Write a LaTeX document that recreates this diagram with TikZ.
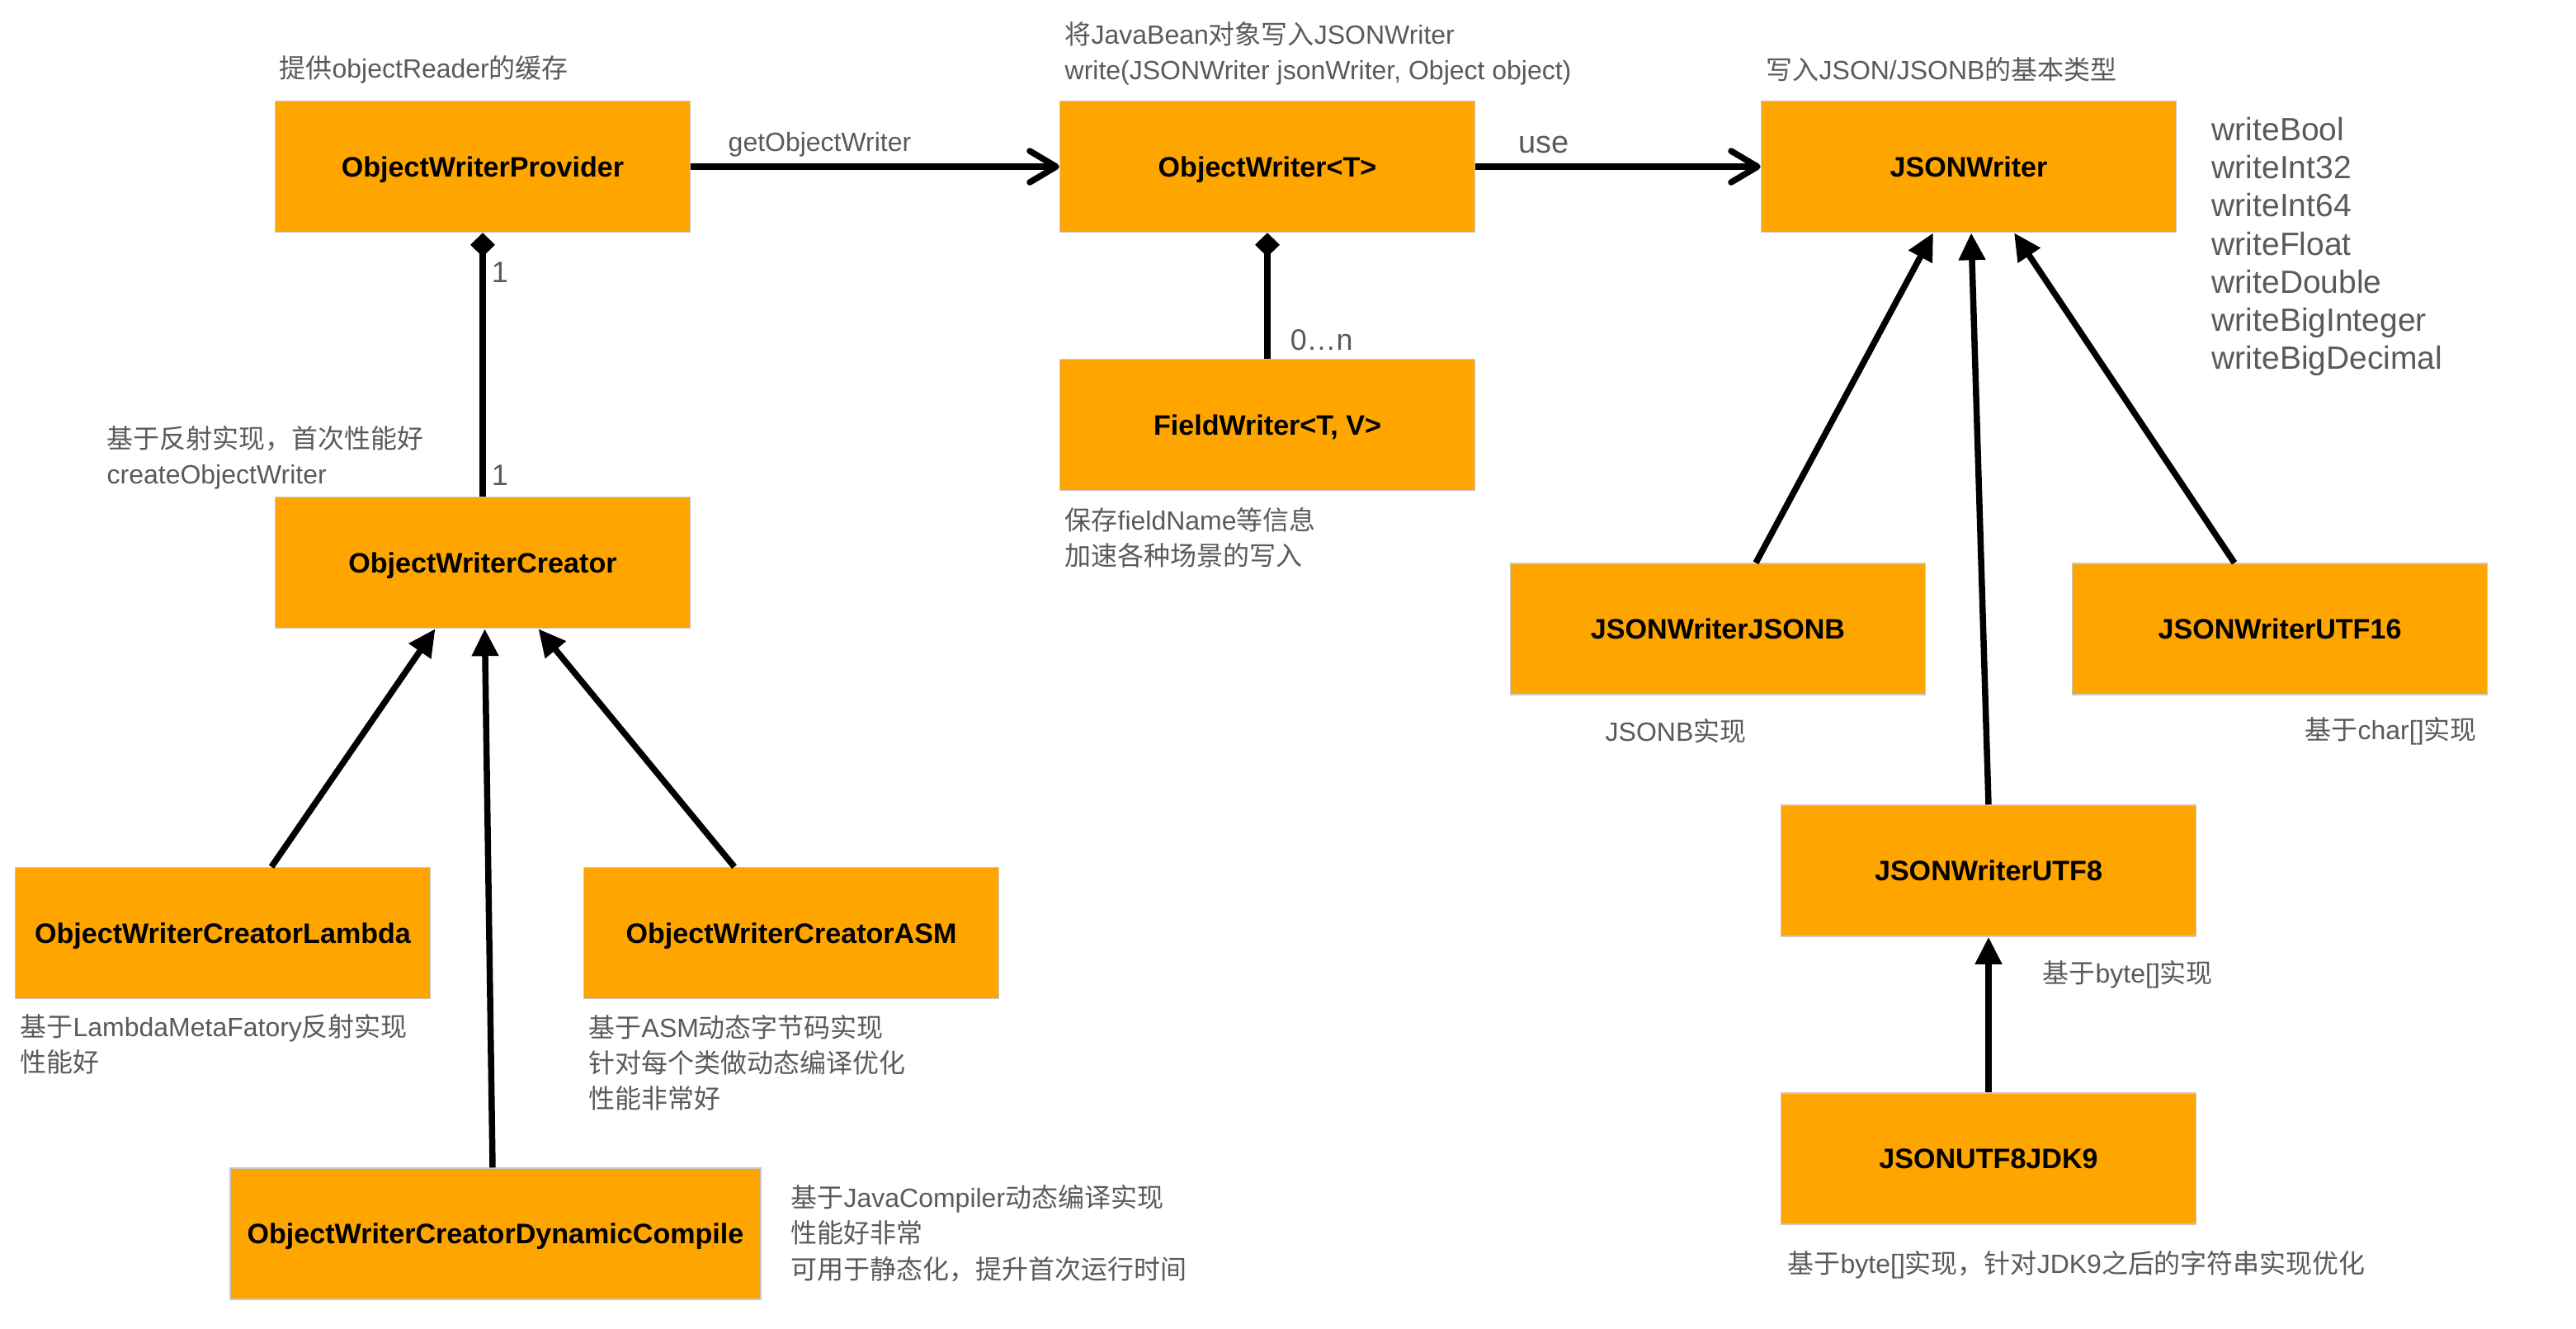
\documentclass[tikz,border=0pt]{standalone}
\usepackage{fontspec}
\setmainfont{Liberation Sans}
\newfontfamily\cjk{Noto Sans CJK SC}
\newcommand{\zh}[1]{{\cjk #1}}
\usetikzlibrary{arrows.meta}
\definecolor{jorange}{HTML}{FFA500}
\definecolor{edge}{HTML}{C8C8C8}
\definecolor{note}{HTML}{5A5A5A}
\tikzset{
  cls/.style={fill=jorange,draw=edge,line width=0.15mm,minimum width=#1,minimum height=1.59cm,inner sep=0pt,text depth=0pt,font=\fontsize{9.7}{11}\selectfont\bfseries},
  cls/.default=5.03cm,
  note/.style={anchor=west,inner sep=0pt,align=left,text=note,font=\fontsize{9.1}{12.3}\selectfont},
  mult/.style={text=note,inner sep=0pt,font=\fontsize{10.2}{12}\selectfont},
  gen/.style={-{Triangle[length=3.3mm,width=3.1mm]},line width=0.75mm},
  dep/.style={-{Straight Barb[length=3.2mm,width=3.8mm,round]},line width=0.75mm},
  comp/.style={-{Diamond[length=2.9mm,width=3mm]},line width=0.75mm},
}
\begin{document}
\begin{tikzpicture}
\path[use as bounding box,fill=white] (0,0) rectangle (31.22,-16.10);
% classes
\node[cls] (owp)    at (5.85,-2.02)    {ObjectWriterProvider};
\node[cls] (ow)     at (15.36,-2.02)   {ObjectWriter<T>};
\node[cls] (jw)     at (23.86,-2.02)   {JSONWriter};
\node[cls] (fw)     at (15.36,-5.15)   {FieldWriter<T, V>};
\node[cls] (owc)    at (5.85,-6.82)    {ObjectWriterCreator};
\node[cls] (jsonb)  at (20.82,-7.625)  {JSONWriterJSONB};
\node[cls] (utf16)  at (27.63,-7.625)  {JSONWriterUTF16};
\node[cls] (utf8)   at (24.10,-10.555) {JSONWriterUTF8};
\node[cls] (jdk9)   at (24.10,-14.045) {JSONUTF8JDK9};
\node[cls] (lambda) at (2.70,-11.31)   {ObjectWriterCreatorLambda};
\node[cls] (asm)    at (9.59,-11.31)   {ObjectWriterCreatorASM};
\node[cls=6.43cm] (dyn) at (6.005,-14.955) {ObjectWriterCreatorDynamicCompile};
% notes
\node[note] (nowp)   at (3.38,-0.84)   {\zh{提供}objectReader\zh{的缓存}};
\node[note] (now)    at (12.90,-0.65)  {\zh{将}JavaBean\zh{对象写入}JSONWriter\\write(JSONWriter jsonWriter, Object object)};
\node[note] (njw)    at (21.40,-0.84)  {\zh{写入}JSON/JSONB\zh{的基本类型}};
\node[note,font=\fontsize{11.1}{13.15}\selectfont] (nmeth) at (26.80,-2.99)
  {writeBool\\writeInt32\\writeInt64\\writeFloat\\writeDouble\\writeBigInteger\\writeBigDecimal};
\node[note] (nowc)   at (1.29,-5.545)  {\zh{基于反射实现，首次性能好}\\createObjectWriter};
\node[note] (nfw)    at (12.90,-6.52)  {\zh{保存}fieldName\zh{等信息}\\\zh{加速各种场景的写入}};
\node[note] (njsonb) at (19.45,-8.86)  {JSONB\zh{实现}};
\node[note] (nutf16) at (27.93,-8.86)  {\zh{基于}char[]\zh{实现}};
\node[note] (nutf8)  at (24.75,-11.81) {\zh{基于}byte[]\zh{实现}};
\node[note] (njdk9)  at (21.66,-15.33) {\zh{基于}byte[]\zh{实现，针对}JDK9\zh{之后的字符串实现优化}};
\node[note] (nlam)   at (0.24,-12.66)  {\zh{基于}LambdaMetaFatory\zh{反射实现}\\\zh{性能好}};
\node[note] (nasm)   at (7.13,-12.88)  {\zh{基于}ASM\zh{动态字节码实现}\\\zh{针对每个类做动态编译优化}\\\zh{性能非常好}};
\node[note] (ndyn)   at (9.58,-14.95)  {\zh{基于}JavaCompiler\zh{动态编译实现}\\\zh{性能好非常}\\\zh{可用于静态化，提升首次运行时间}};
% links
\draw[dep] (owp.east) -- node[pos=0.35,above=0.8mm,mult,font=\fontsize{9.1}{11}\selectfont] {getObjectWriter} (ow.west);
\draw[dep] (ow.east) -- node[pos=0.24,above=1.2mm,mult,font=\fontsize{10.8}{12}\selectfont] {use} (jw.west);
\draw[comp] (owc.north) -- node[mult,pos=0.08,right=0.7mm] {1} node[mult,pos=0.85,right=0.7mm] {1} (owp.south);
\draw[comp] (fw.north) -- node[mult,pos=0.15,right=2.4mm] {0…n} (ow.south);
\foreach \s/\a/\b in {lambda/5.9/-5.75,dyn/-0.35/0.25,asm/-6.9/6.75}
  \draw[gen] ([xshift=\a mm]\s.north) -- ([xshift=\b mm]owc.south);
\foreach \s/\a/\b in {jsonb/4.6/-4.3,utf8/0/0.3,utf16/-5.5/5.5}
  \draw[gen] ([xshift=\a mm]\s.north) -- ([xshift=\b mm]jw.south);
\draw[gen] (jdk9.north) -- (utf8.south);
\end{tikzpicture}
\end{document}
